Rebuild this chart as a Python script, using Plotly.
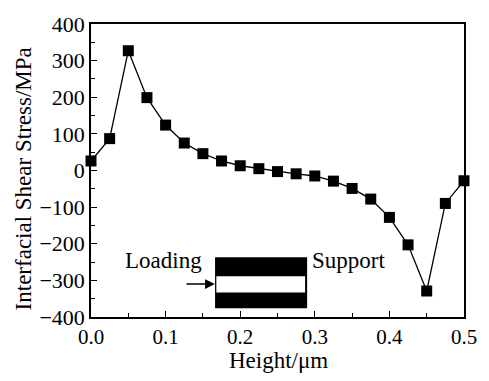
import plotly.graph_objects as go

height_um = [0.0, 0.025, 0.05, 0.075, 0.1, 0.125, 0.15, 0.175, 0.2, 0.225, 0.25,
             0.275, 0.3, 0.325, 0.35, 0.375, 0.4, 0.425, 0.45, 0.475, 0.5]
shear_mpa = [26, 87, 327, 199, 124, 75, 46, 26, 13, 5, -3,
             -9, -15, -29, -49, -78, -128, -203, -329, -90, -28]

x_title = "Height/μm"
y_title = "Interfacial Shear Stress/MPa"
FONT = "Liberation Serif"

fig = go.Figure()
fig.add_trace(go.Scatter(
    x=height_um, y=shear_mpa, mode="lines+markers",
    line=dict(color="black", width=1.3),
    marker=dict(symbol="square", size=11, color="black"),
    showlegend=False, cliponaxis=False,
))

# inset schematic (specimen)
fig.add_shape(type="rect", xref="x", yref="y", x0=0.1663, x1=0.2897, y0=-376, y1=-237,
              fillcolor="black", line=dict(width=0))
fig.add_shape(type="rect", xref="x", yref="y", x0=0.168, x1=0.287, y0=-333, y1=-289,
              fillcolor="white", line=dict(width=0))
fig.add_annotation(x=0.166, y=-310, ax=0.126, ay=-310, xref="x", yref="y",
                   axref="x", ayref="y", showarrow=True, arrowhead=2,
                   arrowsize=1.3, arrowwidth=1.5, arrowcolor="black", text="")
fig.add_annotation(x=0.152, y=-247, xref="x", yref="y", text="Loading",
                   showarrow=False, xanchor="right", yanchor="middle",
                   font=dict(family=FONT, size=23, color="black"))
fig.add_annotation(x=0.294, y=-247, xref="x", yref="y", text="Support",
                   showarrow=False, xanchor="left", yanchor="middle",
                   font=dict(family=FONT, size=23, color="black"))

# axis titles
fig.add_annotation(x=0.503, y=-0.148, xref="paper", yref="paper", text=x_title,
                   showarrow=False, xanchor="center", yanchor="middle",
                   font=dict(family=FONT, size=23, color="black"))
fig.add_annotation(x=-0.182, y=0.47, xref="paper", yref="paper", text=y_title,
                   showarrow=False, xanchor="center", yanchor="middle", textangle=-90,
                   font=dict(family=FONT, size=23, color="black"))

fig.update_layout(
    width=489, height=381,
    margin=dict(l=91, r=20, t=13, b=64),
    paper_bgcolor="white", plot_bgcolor="white",
    font=dict(family=FONT, size=21, color="black"),
)
fig.update_xaxes(
    range=[0, 0.5], dtick=0.1, tickformat=".1f",
    showline=True, linecolor="black", linewidth=1.6, mirror=True,
    ticks="inside", ticklen=6, tickwidth=1.4, tickcolor="black",
    minor=dict(ticks="inside", ticklen=4, dtick=0.05, tickwidth=1.4, tickcolor="black"),
    showgrid=False, zeroline=False,
    tickfont=dict(family=FONT, size=21),
)
fig.update_yaxes(
    range=[-400, 400], dtick=100,
    showline=True, linecolor="black", linewidth=1.6, mirror=True,
    ticks="inside", ticklen=6, tickwidth=1.4, tickcolor="black",
    minor=dict(ticks="inside", ticklen=4, dtick=50, tickwidth=1.4, tickcolor="black"),
    showgrid=False, zeroline=False,
    tickfont=dict(family=FONT, size=22),
)

fig.write_html("out.html")
